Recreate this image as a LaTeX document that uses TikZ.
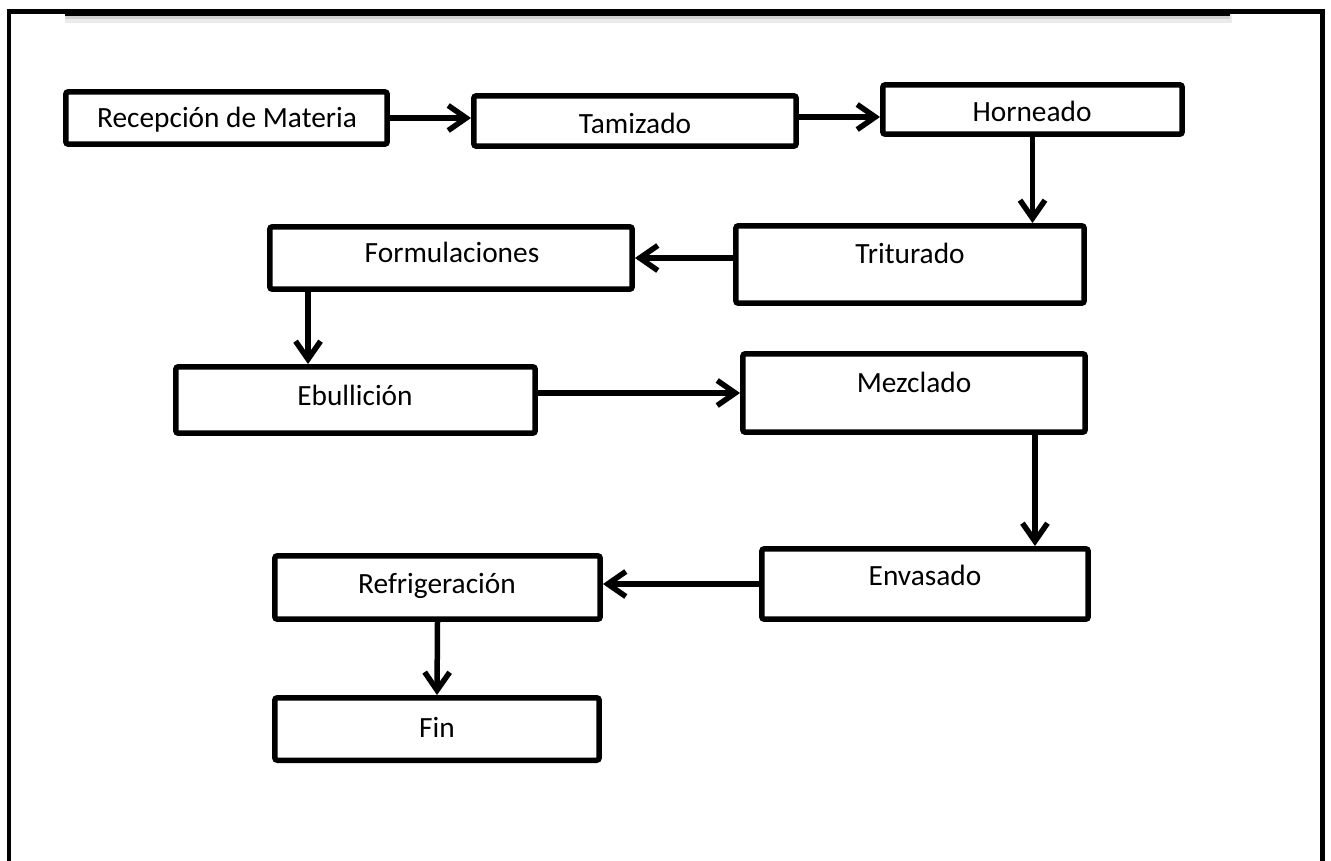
\documentclass[tikz,border=0pt]{standalone}
\usepackage{fontspec}
\setmainfont{Carlito}
\usetikzlibrary{arrows.meta,positioning,calc}
\tikzset{
  proc/.style = {draw, line width=0.11cm, rounded corners=1.5pt, inner sep=0pt, fill=white},
  lbl/.style  = {anchor=base, inner sep=0pt, font=\fontsize{16.7}{20}\selectfont},
  flow/.style = {-{Straight Barb[length=3.6mm,width=5mm]}, line width=0.11cm},
}

\begin{document}
\begin{tikzpicture}[x=0.02cm, y=-0.02cm]
  \useasboundingbox (0,0) rectangle (1331,861);
  % marco
  \fill[black!8]  (65,14) rectangle (1232,23);
  \fill[black!18] (65,14) rectangle (1230,19);
  \draw[line width=0.1cm] (9,861) -- (9,12) -- (1322,12) -- (1322,861);
  \draw[line width=0.1cm] (65,14) -- (1230,14);

  % cajas
  \node[proc, minimum width=6.43cm, minimum height=1.05cm] (rec)  at (226.5,118) {};
  \node[proc, minimum width=6.45cm, minimum height=1.01cm] (tam)  at (635,121) {};
  \node[proc, minimum width=5.99cm, minimum height=0.99cm] (hor)  at (1032.5,109.5) {};
  \node[proc, minimum width=6.97cm, minimum height=1.55cm] (tri)  at (910,264.5) {};
  \node[proc, minimum width=7.25cm, minimum height=1.25cm] (form) at (451,258) {};
  \node[proc, minimum width=7.19cm, minimum height=1.33cm] (ebu)  at (355.5,400) {};
  \node[proc, minimum width=6.85cm, minimum height=1.57cm] (mez)  at (914,393) {};
  \node[proc, minimum width=6.53cm, minimum height=1.41cm] (env)  at (925,584) {};
  \node[proc, minimum width=6.51cm, minimum height=1.27cm] (ref)  at (437.5,587.5) {};
  \node[proc, minimum width=6.49cm, minimum height=1.25cm] (fin)  at (437,729) {};

  % textos
  \node[lbl] (rec-t)  at (227,128) {Recepción de Materia};
  \node[lbl] (tam-t)  at (635,134) {Tamizado};
  \node[lbl] (hor-t)  at (1032,122) {Horneado};
  \node[lbl] (tri-t)  at (910,264) {Triturado};
  \node[lbl] (form-t) at (452,263) {Formulaciones};
  \node[lbl] (ebu-t)  at (355,405) {Ebullición};
  \node[lbl] (mez-t)  at (914,392) {Mezclado};
  \node[lbl] (env-t)  at (925,585) {Envasado};
  \node[lbl] (ref-t)  at (437,593) {Refrigeración};
  \node[lbl] (fin-t)  at (437,737) {Fin};

  % salidas desplazadas
  \path (tam.east) ++(0,-4) coordinate (tam-o);
  \path (form.south west) ++(41,0) coordinate (form-o);
  \path (mez.south east) ++(-53,0) coordinate (mez-o);

  % flechas
  \draw[flow] (rec.east) -- (rec.east -| tam.west);
  \draw[flow] (tam-o) -- (tam-o -| hor.west);
  \draw[flow] (hor.south) -- (hor.south |- tri.north);
  \draw[flow] (tri.west |- form.east) -- (form.east);
  \draw[flow] (form-o) -- (form-o |- ebu.north);
  \draw[flow] (ebu.east |- mez.west) -- (mez.west);
  \draw[flow] (mez-o) -- (mez-o |- env.north);
  \draw[flow] (env.west) -- (env.west -| ref.east);
  \draw[flow] (ref.south) -- (fin.north);
\end{tikzpicture}
\end{document}
